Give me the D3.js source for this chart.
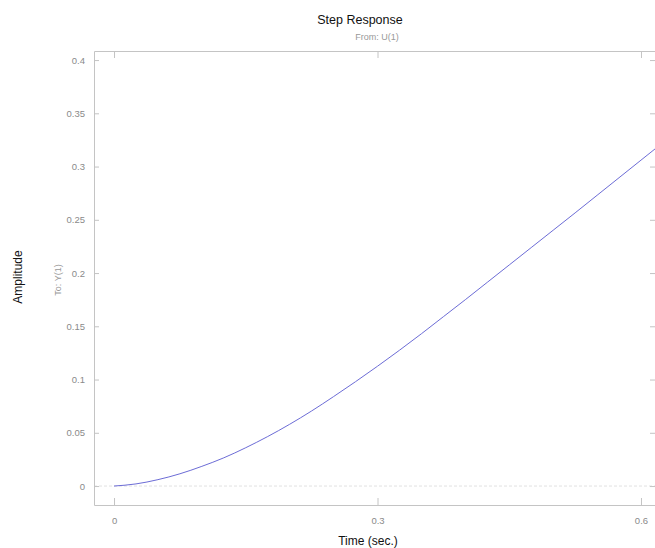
<!DOCTYPE html>
<html>
<head>
<meta charset="utf-8">
<script src="https://cdn.jsdelivr.net/npm/d3@7"></script>
<style>
  body { margin: 0; background: #fff; }
  svg { display: block; font-family: "Liberation Sans", Arial, sans-serif; }
</style>
</head>
<body>
<svg id="chart" width="655" height="548"></svg>
<script>
// Step response data
const times = [0, 0.025, 0.05, 0.075, 0.1, 0.125, 0.15, 0.175, 0.2, 0.225, 0.25, 0.275,
  0.3, 0.325, 0.35, 0.375, 0.4, 0.425, 0.45, 0.475, 0.5, 0.525, 0.55, 0.575, 0.6, 0.625];
const amplitude = [0, 0.002, 0.006, 0.0115, 0.0185, 0.0265, 0.036, 0.0465, 0.058, 0.0705, 0.084, 0.098,
  0.1125, 0.1275, 0.143, 0.159, 0.175, 0.1913, 0.2076, 0.2239, 0.2402, 0.2565, 0.273, 0.2895, 0.306, 0.3225];

const xTicks = [0, 0.3, 0.6];
const yTicks = [0, 0.05, 0.1, 0.15, 0.2, 0.25, 0.3, 0.35, 0.4];

const width = 655;
const height = 548;
const margin = { top: 51, right: -1, bottom: 43, left: 94 };

const svg = d3.select("#chart");

const x = d3.scaleLinear()
    .domain([-0.0228, 0.6171])
    .range([margin.left, width - margin.right]);

const y = d3.scaleLinear()
    .domain([-0.0178, 0.4085])
    .range([height - margin.bottom, margin.top]);

const axisColor = "#c4c4c4";
const labelColor = "#8a8a8a";

// clip for the curve
svg.append("clipPath").attr("id", "plot-clip")
  .append("rect")
    .attr("x", x.range()[0])
    .attr("y", y.range()[1])
    .attr("width", x.range()[1] - x.range()[0])
    .attr("height", y.range()[0] - y.range()[1]);

// steady-state line at zero
svg.append("line")
    .attr("x1", x.range()[0]).attr("x2", x.range()[1])
    .attr("y1", y(0)).attr("y2", y(0))
    .attr("stroke", "#e2e2e2")
    .attr("stroke-dasharray", "3,2");

// axes, ticks drawn inward like the original
function styleAxis(g) {
  g.select(".domain").attr("stroke", axisColor);
  g.selectAll(".tick line").attr("stroke", axisColor);
  g.selectAll(".tick text").attr("fill", labelColor).attr("font-size", 9.5);
}

svg.append("g")
    .attr("transform", `translate(0,${y.range()[0]})`)
    .call(d3.axisBottom(x).tickValues(xTicks).tickSizeInner(-7).tickSizeOuter(0)
      .tickPadding(12).tickFormat(d3.format("")))
    .call(styleAxis);

svg.append("g")
    .attr("transform", `translate(0,${y.range()[1]})`)
    .call(d3.axisTop(x).tickValues(xTicks).tickSizeInner(-7).tickSizeOuter(0).tickFormat(""))
    .call(styleAxis);

svg.append("g")
    .attr("transform", `translate(${x.range()[0]},0)`)
    .call(d3.axisLeft(y).tickValues(yTicks).tickSizeInner(-5).tickSizeOuter(0)
      .tickPadding(9).tickFormat(d3.format("")))
    .call(styleAxis);

svg.append("g")
    .attr("transform", `translate(${x.range()[1]},0)`)
    .call(d3.axisRight(y).tickValues(yTicks).tickSizeInner(-6).tickSizeOuter(0).tickFormat(""))
    .call(styleAxis);

// response curve
const line = d3.line()
    .x((d, i) => x(times[i]))
    .y(d => y(d))
    .curve(d3.curveMonotoneX);

svg.append("path")
    .datum(amplitude)
    .attr("clip-path", "url(#plot-clip)")
    .attr("fill", "none")
    .attr("stroke", "#6c6cd6")
    .attr("stroke-width", 1)
    .attr("d", line);

// titles
svg.append("text")
    .attr("x", 360).attr("y", 24)
    .attr("text-anchor", "middle")
    .attr("font-size", 12.5)
    .attr("fill", "#111")
    .text("Step Response");

svg.append("text")
    .attr("x", 377).attr("y", 40)
    .attr("text-anchor", "middle")
    .attr("font-size", 9)
    .attr("fill", "#999")
    .text("From: U(1)");

svg.append("text")
    .attr("x", 368).attr("y", 545)
    .attr("text-anchor", "middle")
    .attr("font-size", 12)
    .attr("fill", "#111")
    .text("Time (sec.)");

svg.append("text")
    .attr("transform", "translate(22,277) rotate(-90)")
    .attr("text-anchor", "middle")
    .attr("font-size", 12)
    .attr("fill", "#111")
    .text("Amplitude");

svg.append("text")
    .attr("transform", "translate(61,280) rotate(-90)")
    .attr("text-anchor", "middle")
    .attr("font-size", 9)
    .attr("fill", "#999")
    .text("To: Y(1)");
</script>
</body>
</html>
